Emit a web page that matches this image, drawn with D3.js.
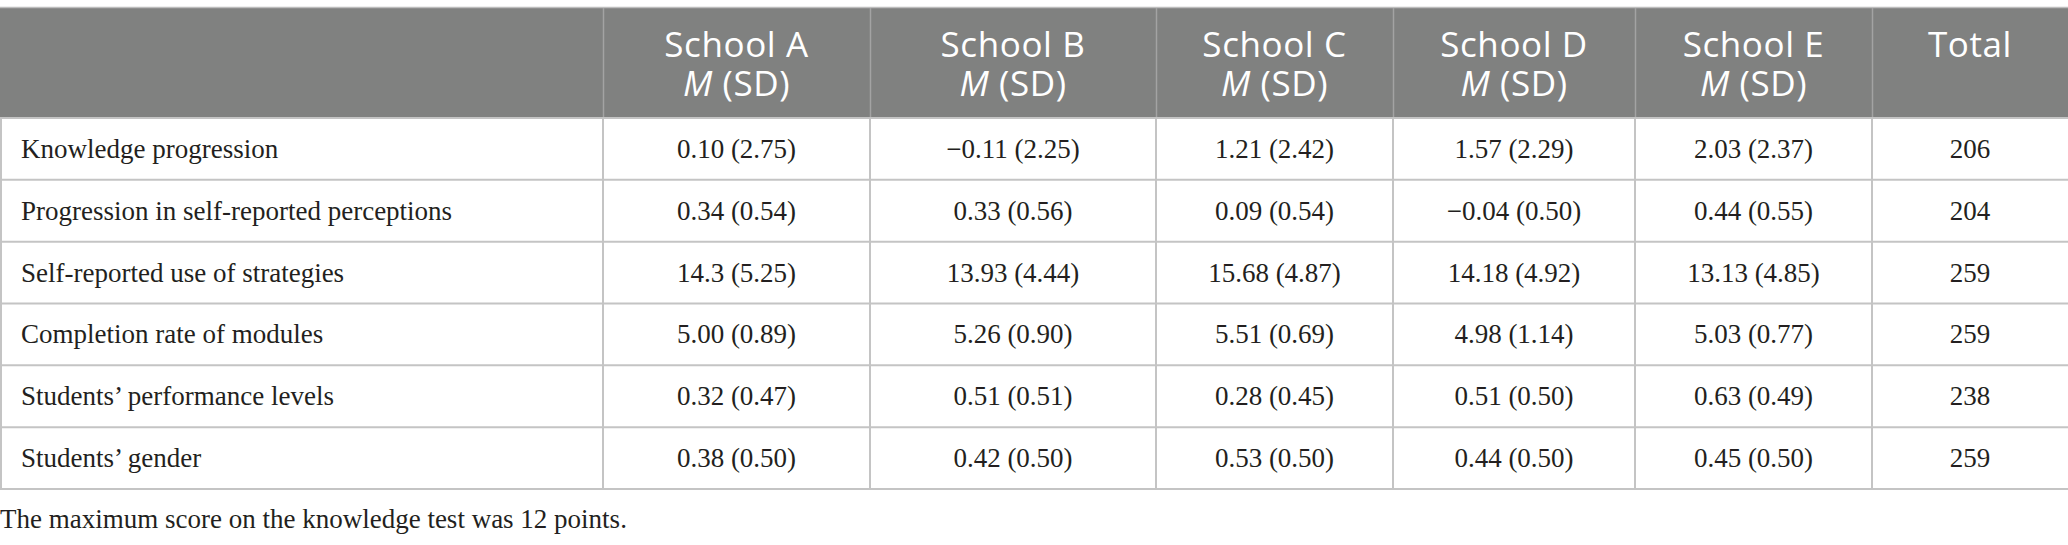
<!DOCTYPE html>
<html>
<head>
<meta charset="utf-8">
<script src="https://cdn.jsdelivr.net/npm/d3@7"></script>
<style>
  html, body { margin: 0; padding: 0; background: #fff; }
  svg { display: block; }
</style>
</head>
<body>
<svg id="chart" width="2068" height="545"></svg>
<script>
// table content
const schools = ["School A", "School B", "School C", "School D", "School E"];
const measures = [
  "Knowledge progression",
  "Progression in self-reported perceptions",
  "Self-reported use of strategies",
  "Completion rate of modules",
  "Students\u2019 performance levels",
  "Students\u2019 gender"
];
const means = [
  [0.10, -0.11, 1.21, 1.57, 2.03],
  [0.34, 0.33, 0.09, -0.04, 0.44],
  [14.3, 13.93, 15.68, 14.18, 13.13],
  [5.00, 5.26, 5.51, 4.98, 5.03],
  [0.32, 0.51, 0.28, 0.51, 0.63],
  [0.38, 0.42, 0.53, 0.44, 0.45]
];
const sds = [
  [2.75, 2.25, 2.42, 2.29, 2.37],
  [0.54, 0.56, 0.54, 0.50, 0.55],
  [5.25, 4.44, 4.87, 4.92, 4.85],
  [0.89, 0.90, 0.69, 1.14, 0.77],
  [0.47, 0.51, 0.45, 0.50, 0.49],
  [0.50, 0.50, 0.50, 0.50, 0.50]
];
const totals = [206, 204, 259, 259, 238, 259];
const footnote = "The maximum score on the knowledge test was 12 points.";

// layout
const W = 2068;
const colEdges = [0, 603, 870, 1156, 1393, 1635, 1872, 2068];
const headTop = 8, headBottom = 118, tableBottom = 489;
const serif = "'Liberation Serif', 'DejaVu Serif', serif";
const sans = "'Open Sans', Lato, sans-serif";

// 14.3 is printed with one decimal in the source, minus signs are true minus
const fmtMean = v => (v === 14.3 ? "14.3" : d3.format(".2f")(v)).replace("-", "\u2212");
const fmtSd = d3.format(".2f");

const svg = d3.select("#chart");

const cols = ["label", ...schools, "Total"];
const x0 = d3.scaleOrdinal().domain(cols).range(colEdges.slice(0, -1));
const x1 = d3.scaleOrdinal().domain(cols).range(colEdges.slice(1));
const xc = c => (x0(c) + x1(c)) / 2;

const y = d3.scaleBand()
  .domain(measures)
  .range([headBottom, tableBottom]);

// header
svg.append("rect")
  .attr("x", 0).attr("y", headTop)
  .attr("width", W).attr("height", headBottom - headTop)
  .attr("fill", "#808180");

svg.append("line")
  .attr("x1", 0).attr("x2", W)
  .attr("y1", headTop - 0.5).attr("y2", headTop - 0.5)
  .attr("stroke", "#bdbdbd").attr("stroke-width", 1.5);

const head = svg.append("g").attr("font-family", sans).attr("fill", "#fff")
  .attr("font-size", 35).attr("font-weight", 400)
  .attr("letter-spacing", 0.6).attr("text-anchor", "middle");

schools.forEach(s => {
  head.append("text").attr("x", xc(s)).attr("y", 57).text(s);
  head.append("text").attr("x", xc(s)).attr("y", 96)
    .html('<tspan font-style="italic">M</tspan> (SD)');
});
head.append("text").attr("x", xc("Total")).attr("y", 57).text("Total");

// header column separators
svg.append("g")
  .selectAll("line")
  .data(cols.slice(1))
  .join("line")
  .attr("x1", d => x0(d) + 0.5).attr("x2", d => x0(d) + 0.5)
  .attr("y1", headTop).attr("y2", headBottom)
  .attr("stroke", "#a3a3a3").attr("stroke-width", 1.5);

// body grid
const grid = svg.append("g").attr("stroke", "#c4c4c4").attr("stroke-width", 2);
grid.selectAll("line.h")
  .data(measures)
  .join("line")
  .attr("class", "h")
  .attr("x1", 0).attr("x2", W)
  .attr("y1", d => y(d) + y.bandwidth()).attr("y2", d => y(d) + y.bandwidth());
grid.append("line")
  .attr("x1", 0).attr("x2", W)
  .attr("y1", headBottom).attr("y2", headBottom);
grid.selectAll("line.v")
  .data(cols.slice(1))
  .join("line")
  .attr("class", "v")
  .attr("x1", d => x0(d)).attr("x2", d => x0(d))
  .attr("y1", headBottom).attr("y2", tableBottom);
grid.append("line")
  .attr("x1", 1).attr("x2", 1)
  .attr("y1", headBottom).attr("y2", tableBottom);

// body text
const body = svg.append("g").attr("font-family", serif).attr("fill", "#231f20")
  .attr("font-size", 27);

measures.forEach((m, i) => {
  const yb = y(m) + y.bandwidth() / 2 + 9;
  body.append("text").attr("x", 21).attr("y", yb).text(m);
  schools.forEach((s, j) => {
    body.append("text")
      .attr("x", xc(s)).attr("y", yb)
      .attr("text-anchor", "middle")
      .text(`${fmtMean(means[i][j])} (${fmtSd(sds[i][j])})`);
  });
  body.append("text")
    .attr("x", xc("Total")).attr("y", yb)
    .attr("text-anchor", "middle")
    .text(totals[i]);
});

svg.append("text")
  .attr("x", 0).attr("y", 528)
  .attr("font-family", serif).attr("font-size", 27).attr("fill", "#231f20")
  .text(footnote);
</script>
</body>
</html>
